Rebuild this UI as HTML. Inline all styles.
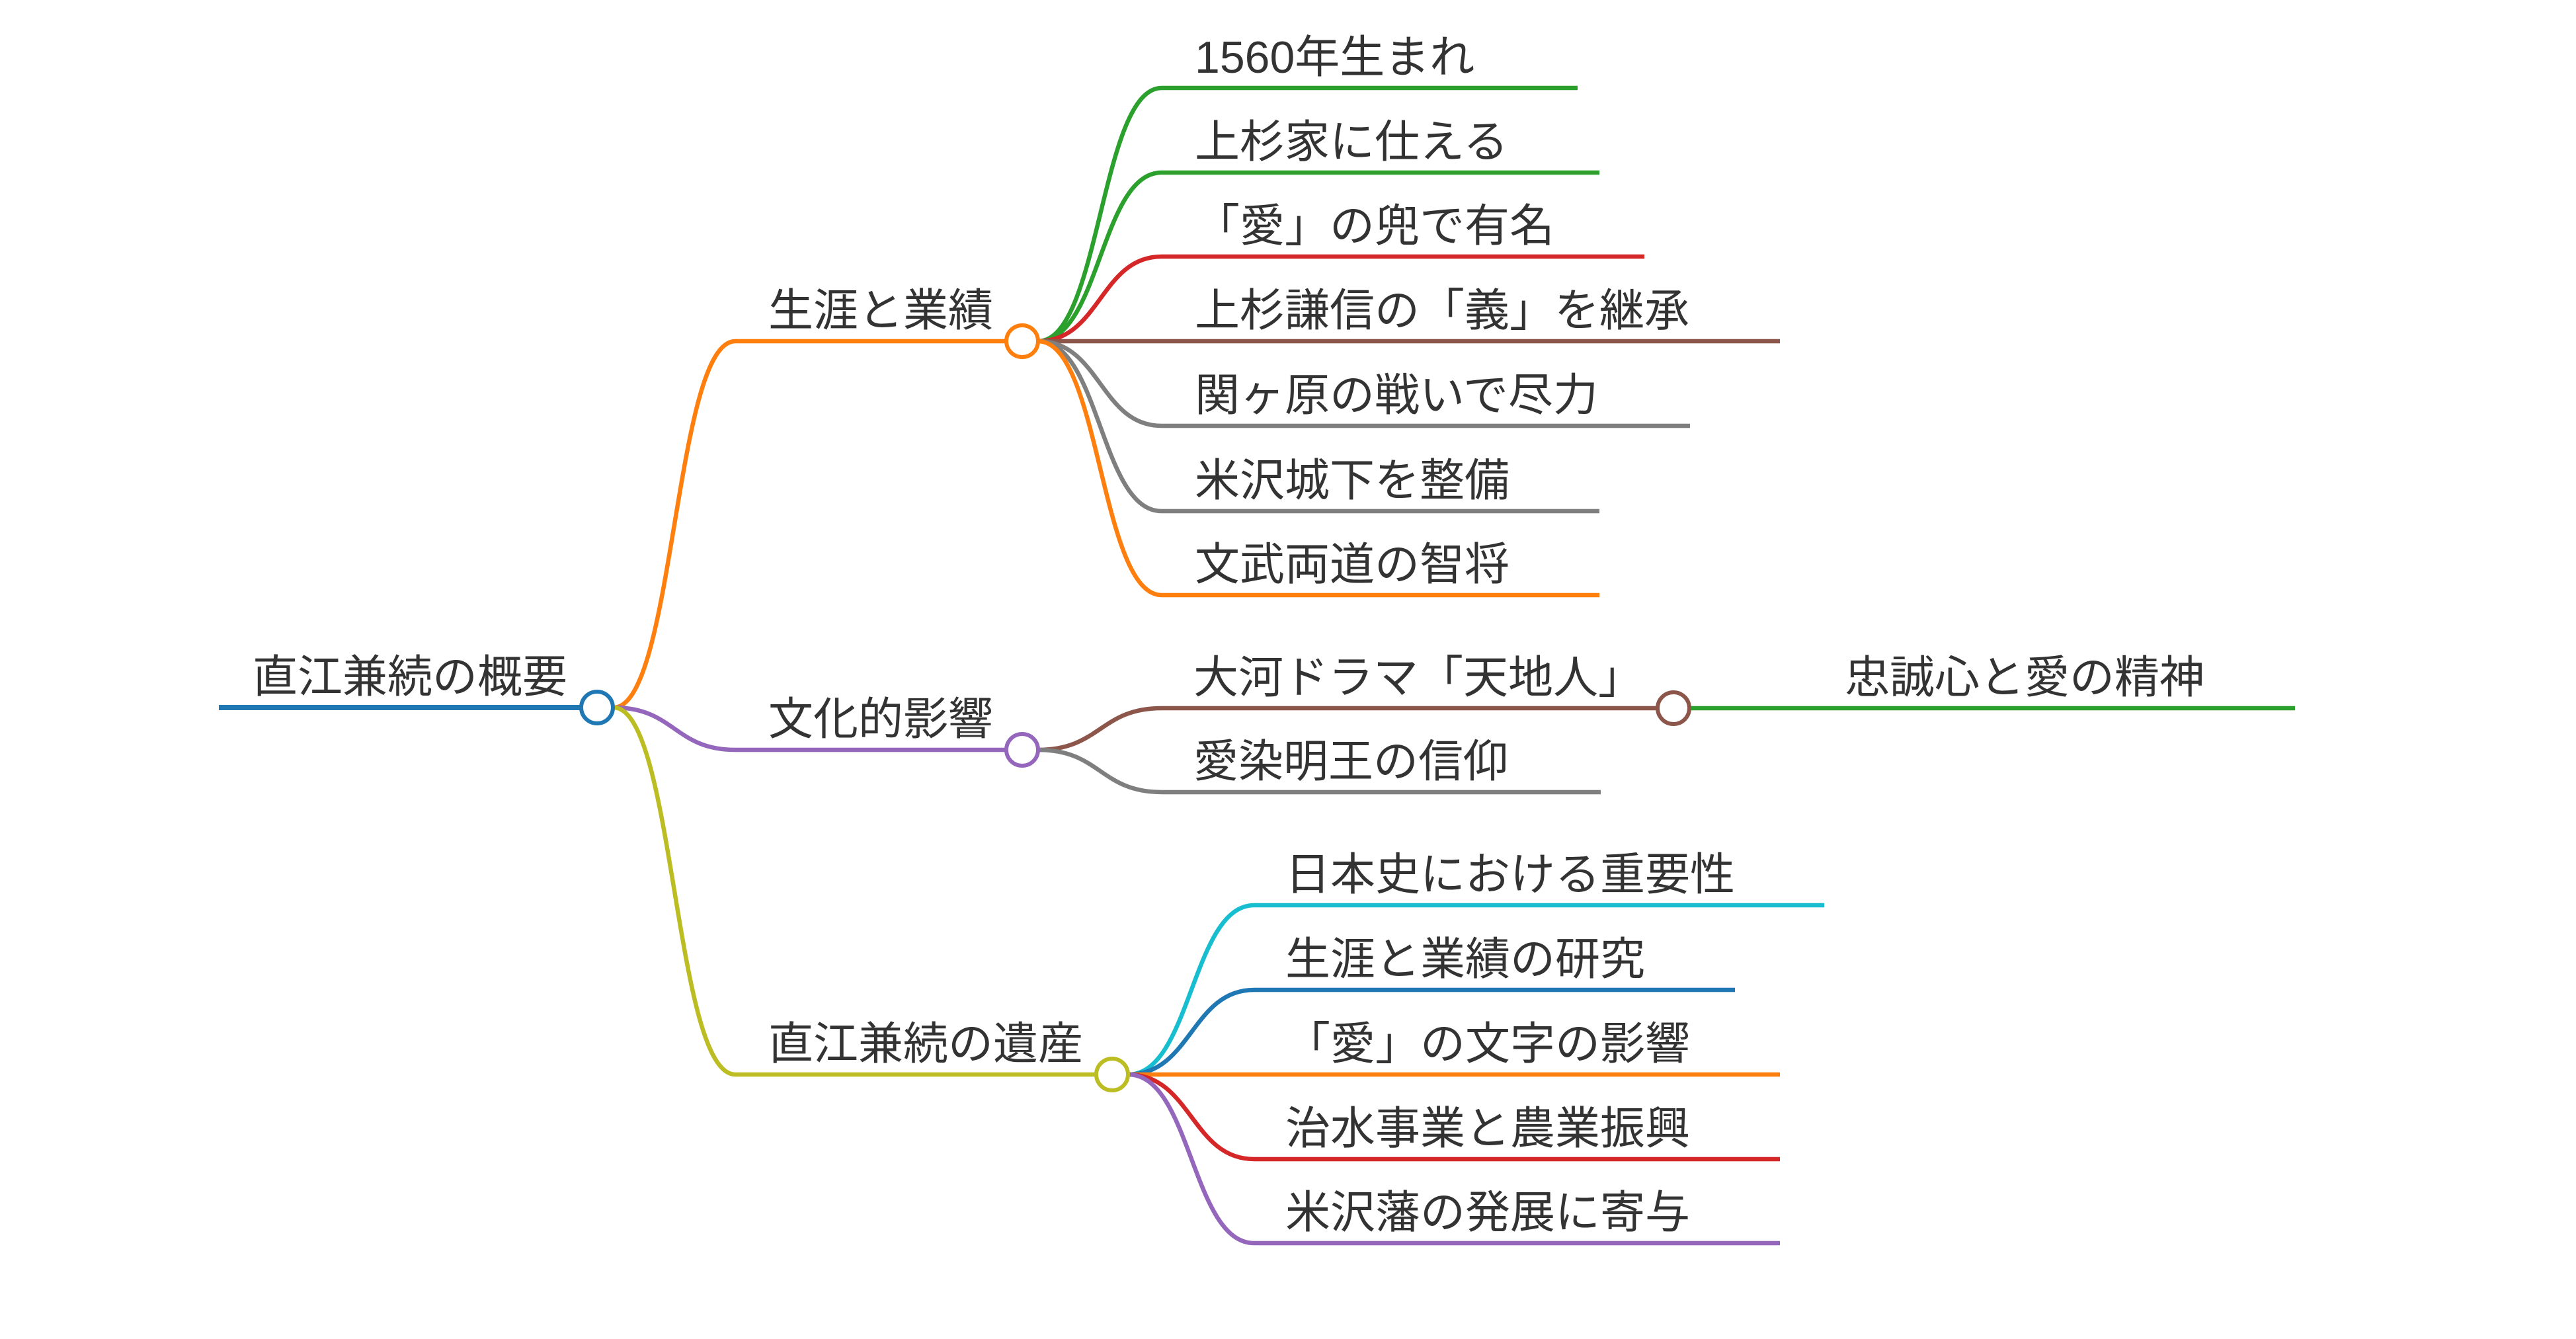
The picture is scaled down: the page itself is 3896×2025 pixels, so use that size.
<!DOCTYPE html>
<html><head><meta charset="utf-8"><style>
html,body{margin:0;padding:0;background:#fff;}
svg{display:block;}
text{font-family:"Liberation Sans","Noto Sans CJK JP",sans-serif;font-size:68px;fill:#333;}
</style></head><body>
<svg width="3896" height="2025" viewBox="0 0 3896 2025" xmlns="http://www.w3.org/2000/svg">
<g fill="none" stroke-width="6.5">
<line x1="331" y1="1070" x2="880" y2="1070" stroke="#1f77b4" stroke-width="8"/>
<path d="M928 1070 C1020 1070 1020 516 1112 516 L1522 516" stroke="#ff7f0e"/>
<path d="M928 1070 C1020 1070 1020 1134 1112 1134 L1522 1134" stroke="#9467bd"/>
<path d="M928 1070 C1020 1070 1020 1625 1112 1625 L1658 1625" stroke="#bcbd22"/>
<path d="M1570 516 C1664 516 1664 133 1757 133 L2386 133" stroke="#2ca02c"/>
<path d="M1570 516 C1664 516 1664 261 1757 261 L2419 261" stroke="#2ca02c"/>
<path d="M1570 516 C1664 516 1664 388 1757 388 L2487 388" stroke="#d62728"/>
<path d="M1570 516 L2692 516" stroke="#8c564b"/>
<path d="M1570 516 C1664 516 1664 644 1757 644 L2556 644" stroke="#7f7f7f"/>
<path d="M1570 516 C1664 516 1664 773 1757 773 L2419 773" stroke="#7f7f7f"/>
<path d="M1570 516 C1664 516 1664 900 1757 900 L2419 900" stroke="#ff7f0e"/>
<path d="M1570 1134 C1664 1134 1664 1071 1757 1071 L2506 1071" stroke="#8c564b"/>
<path d="M1570 1134 C1664 1134 1664 1198 1757 1198 L2421 1198" stroke="#7f7f7f"/>
<line x1="2556" y1="1071" x2="3471" y2="1071" stroke="#2ca02c"/>
<path d="M1706 1625 C1802 1625 1802 1369 1897 1369 L2759 1369" stroke="#17becf"/>
<path d="M1706 1625 C1802 1625 1802 1497 1897 1497 L2624 1497" stroke="#1f77b4"/>
<path d="M1706 1625 L2692 1625" stroke="#ff7f0e"/>
<path d="M1706 1625 C1802 1625 1802 1753 1897 1753 L2692 1753" stroke="#d62728"/>
<path d="M1706 1625 C1802 1625 1802 1880 1897 1880 L2692 1880" stroke="#9467bd"/>
</g>
<g fill="#fff" stroke-width="6">
<circle cx="903" cy="1070" r="24" stroke="#1f77b4"/>
<circle cx="1546" cy="516" r="24" stroke="#ff7f0e"/>
<circle cx="1546" cy="1134" r="24" stroke="#9467bd"/>
<circle cx="1682" cy="1625" r="24" stroke="#bcbd22"/>
<circle cx="2531" cy="1071" r="24" stroke="#8c564b"/>
</g>
<text x="382" y="1047">直江兼続の概要</text>
<text x="1162" y="493">生涯と業績</text>
<text x="1162" y="1111">文化的影響</text>
<text x="1162" y="1602">直江兼続の遺産</text>
<text x="1807" y="110">1560年生まれ</text>
<text x="1807" y="238">上杉家に仕える</text>
<text x="1807" y="365">「愛」の兜で有名</text>
<text x="1807" y="493">上杉謙信の「義」を継承</text>
<text x="1807" y="621">関ヶ原の戦いで尽力</text>
<text x="1807" y="750">米沢城下を整備</text>
<text x="1807" y="877">文武両道の智将</text>
<text x="1805" y="1048">大河ドラマ「天地人」</text>
<text x="1805" y="1175">愛染明王の信仰</text>
<text x="2790" y="1048">忠誠心と愛の精神</text>
<text x="1944" y="1346">日本史における重要性</text>
<text x="1944" y="1474">生涯と業績の研究</text>
<text x="1944" y="1602">「愛」の文字の影響</text>
<text x="1944" y="1730">治水事業と農業振興</text>
<text x="1944" y="1857">米沢藩の発展に寄与</text>
</svg>
</body></html>
